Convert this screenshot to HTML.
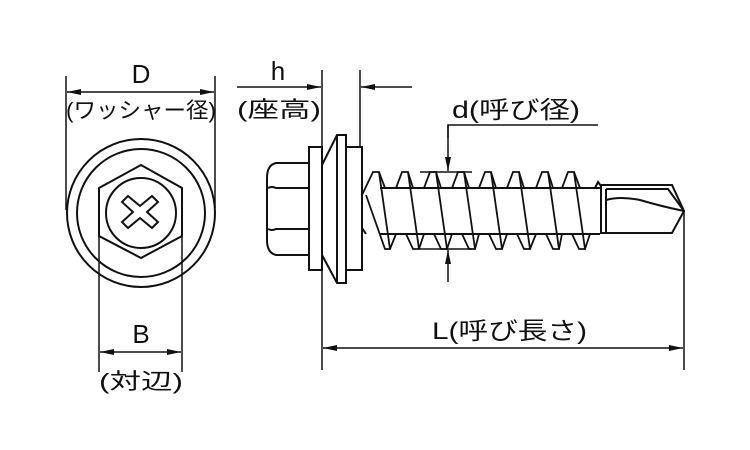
<!DOCTYPE html>
<html><head><meta charset="utf-8"><style>
html,body{margin:0;padding:0;background:#fff;}
svg{display:block;}
text{font-family:"Liberation Sans","Noto Sans CJK JP",sans-serif;fill:#111;}
</style></head><body>
<svg width="750" height="450" viewBox="0 0 750 450" xmlns="http://www.w3.org/2000/svg">
<defs>
<marker id="a" markerWidth="14" markerHeight="8" refX="14" refY="4" orient="auto" markerUnits="userSpaceOnUse"><path d="M0,1 L14,4 L0,7 Z" fill="#111"/></marker>
</defs>
<g stroke="#111" stroke-width="2" fill="none">
<circle cx="141" cy="213" r="74"/>
<circle cx="141" cy="213" r="64"/>
<polygon points="141,165 182,188 182,236 141,258 99,236 99,188"/>
<circle cx="141" cy="213" r="35"/>
<path d="M128,196 L140,206 L152,196 L158,202 L147,212 L158,222 L152,228 L140,218 L128,228 L122,222 L133,212 L122,202 Z"/>
<line x1="66" y1="76" x2="66" y2="210" stroke-width="1.5"/>
<line x1="215" y1="76" x2="215" y2="208" stroke-width="1.5"/>
<line x1="141" y1="92" x2="67" y2="92" stroke-width="1.5" marker-end="url(#a)"/>
<line x1="141" y1="92" x2="214" y2="92" stroke-width="1.5" marker-end="url(#a)"/>
<line x1="99" y1="236" x2="99" y2="372" stroke-width="1.5"/>
<line x1="182" y1="236" x2="182" y2="372" stroke-width="1.5"/>
<line x1="141" y1="352" x2="100" y2="352" stroke-width="1.5" marker-end="url(#a)"/>
<line x1="141" y1="352" x2="181" y2="352" stroke-width="1.5" marker-end="url(#a)"/>

<path d="M309,163 L276,163 Q267,165 267,178 L267,240 Q267,253 276,255 L309,255"/>
<path d="M268,188 Q272,186 276,188 L309,188"/>
<path d="M268,229 Q272,231 276,229 L309,229"/>
<rect x="309" y="147" width="13" height="123"/>
<polygon points="322,165 337,135 346,135 346,283 337,283 322,255"/>
<line x1="337" y1="135" x2="337" y2="283"/>
<rect x="346" y="147" width="16" height="123"/>
<line x1="322" y1="70" x2="322" y2="370" stroke-width="1.5"/>
<line x1="360" y1="70" x2="360" y2="147" stroke-width="1.5"/>
<line x1="237" y1="87" x2="321" y2="87" stroke-width="1.5" marker-end="url(#a)"/>
<line x1="412" y1="87" x2="361" y2="87" stroke-width="1.5" marker-end="url(#a)"/>
<line x1="380" y1="188" x2="600" y2="188"/>
<line x1="380" y1="234" x2="600" y2="234"/>
<path d="M362,195 L362,228 L366,234"/>
<g stroke-width="1.8">
<path d="M362,195 L373,172 L379,172 L390,249 L385,249 L366,195"/>
<path d="M396,188 L402,172 L408,172 L419,249 L413,249 L406,234"/>
<path d="M424,188 L430,172 L436,172 L447,249 L441,249 L434,234"/>
<path d="M452,188 L458,172 L464,172 L475,249 L469,249 L462,234"/>
<path d="M479,188 L485,172 L491,172 L502,249 L496,249 L489,234"/>
<path d="M507,188 L513,172 L519,172 L530,249 L524,249 L517,234"/>
<path d="M536,188 L542,172 L548,172 L559,249 L553,249 L546,234"/>
<path d="M562,188 L568,172 L574,172 L585,249 L579,249 L572,234"/>
<path d="M390,249 L396,234 M419,249 L424,234 M447,249 L452,234 M475,249 L479,234 M502,249 L507,234 M530,249 L536,234 M559,249 L562,234 M585,249 L590,234"/>
<path d="M379,172 L385,188 M408,172 L413,188 M436,172 L441,188 M464,172 L469,188 M491,172 L496,188 M519,172 L524,188 M548,172 L553,188 M574,172 L580,188"/>
</g>
<path d="M595,188 L598,182 L601,186 L601,234"/>
<path d="M601,185 L672,185 L684,211 L672,233 L601,233"/>
<path d="M606,189 L668,189 L684,211"/>
<line x1="606" y1="189" x2="606" y2="233"/>
<path d="M606,200 Q620,196 640,200 Q660,206 684,211"/>
<line x1="684" y1="211" x2="684" y2="370" stroke-width="1.5"/>
<line x1="420" y1="172" x2="472" y2="172" stroke-width="1.5"/>
<line x1="420" y1="249" x2="472" y2="249" stroke-width="1.5"/>
<polyline points="598,125 448,125 448,138" stroke-width="1.5"/>
<line x1="448" y1="125" x2="448" y2="171" stroke-width="1.5" marker-end="url(#a)"/>
<line x1="448" y1="282" x2="448" y2="250" stroke-width="1.5" marker-end="url(#a)"/>
<line x1="500" y1="348" x2="323" y2="348" stroke-width="1.5" marker-end="url(#a)"/>
<line x1="500" y1="348" x2="683" y2="348" stroke-width="1.5" marker-end="url(#a)"/>
</g>
<g font-weight="normal">
<text x="141" y="83" font-size="26" text-anchor="middle">D</text>
<text x="141" y="118" font-size="22" text-anchor="middle" textLength="150" lengthAdjust="spacingAndGlyphs">(ワッシャー径)</text>
<text x="141" y="343" font-size="26" text-anchor="middle">B</text>
<text x="141" y="389" font-size="22" text-anchor="middle" textLength="84" lengthAdjust="spacingAndGlyphs">(対辺)</text>
<text x="278" y="80" font-size="26" text-anchor="middle">h</text>
<text x="279" y="117" font-size="22" text-anchor="middle" textLength="84" lengthAdjust="spacingAndGlyphs">(座高)</text>
<text x="452" y="118" font-size="24" textLength="128" lengthAdjust="spacingAndGlyphs">d(呼び径)</text>
<text x="432" y="339" font-size="24" textLength="155" lengthAdjust="spacingAndGlyphs">L(呼び長さ)</text>
</g>
</svg>
</body></html>
